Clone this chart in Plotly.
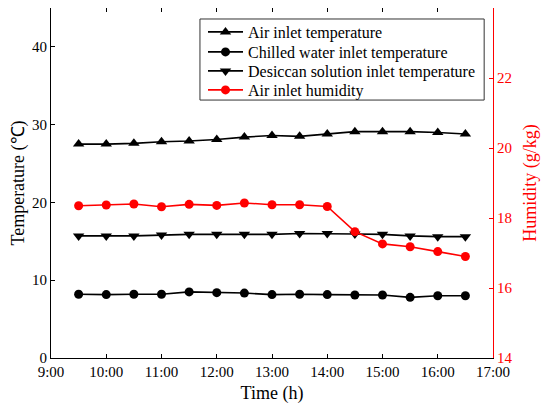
import plotly.graph_objects as go

# sample times in hours (9:30 ... 16:30)
hours = [9.5, 10.0, 10.5, 11.0, 11.5, 12.0, 12.5, 13.0, 13.5, 14.0, 14.5, 15.0, 15.5, 16.0, 16.5]

air_temp = [27.5, 27.5, 27.6, 27.8, 27.9, 28.1, 28.4, 28.6, 28.5, 28.8, 29.1, 29.1, 29.1, 29.0, 28.8]
water_temp = [8.2, 8.15, 8.2, 8.2, 8.5, 8.4, 8.35, 8.15, 8.2, 8.15, 8.1, 8.1, 7.8, 8.0, 8.0]
solution_temp = [15.7, 15.7, 15.7, 15.8, 15.9, 15.9, 15.9, 15.9, 16.0, 16.0, 15.95, 15.9, 15.7, 15.6, 15.6]
air_humidity = [18.35, 18.37, 18.40, 18.32, 18.39, 18.36, 18.43, 18.38, 18.38, 18.33,
                17.61, 17.26, 17.18, 17.04, 16.90]

x_tickvals = [9, 10, 11, 12, 13, 14, 15, 16, 17]
x_ticktext = ["9:00", "10:00", "11:00", "12:00", "13:00", "14:00", "15:00", "16:00", "17:00"]

FONT = "Liberation Serif"
RED = "#ff0000"

fig = go.Figure()
fig.add_trace(go.Scatter(
    x=hours, y=air_temp, name="Air inlet temperature", mode="lines+markers", legend="legend",
    line=dict(color="black", width=1.6), marker=dict(symbol="triangle-up", size=10, color="black")))
fig.add_trace(go.Scatter(
    x=hours, y=water_temp, name="Chilled water inlet temperature", mode="lines+markers", legend="legend2",
    line=dict(color="black", width=1.6), marker=dict(symbol="circle", size=9, color="black")))
fig.add_trace(go.Scatter(
    x=hours, y=solution_temp, name="Desiccan solution inlet temperature", mode="lines+markers",
    legend="legend3",
    line=dict(color="black", width=1.6), marker=dict(symbol="triangle-down", size=10, color="black")))
fig.add_trace(go.Scatter(
    x=hours, y=air_humidity, name="Air inlet humidity", mode="lines+markers", yaxis="y2", legend="legend4",
    line=dict(color=RED, width=1.6), marker=dict(symbol="circle", size=9, color=RED)))

# one legend per row so the rows sit as tight as in the original; a box is drawn around them
def row_legend(y):
    return dict(x=0.3439, xanchor="left", y=y, yanchor="middle", itemwidth=35,
                bgcolor="rgba(0,0,0,0)", borderwidth=0, font=dict(family=FONT, size=16))

fig.add_shape(type="rect", xref="paper", yref="paper", x0=0.337, x1=0.980, y0=0.737, y1=0.9686,
              line=dict(color="#333333", width=1), fillcolor="white", layer="below")

# page body has an 8px margin, so the figure is sized/margined to compensate
fig.update_layout(
    width=542, height=401,
    margin=dict(l=43, r=57, t=0, b=51, autoexpand=False),
    paper_bgcolor="white", plot_bgcolor="white",
    font=dict(family=FONT, size=15, color="black"),
    showlegend=True,
    legend=row_legend(0.9314),
    legend2=row_legend(0.8743),
    legend3=row_legend(0.8200),
    legend4=row_legend(0.7657),
    xaxis=dict(range=[9, 17], tickvals=x_tickvals, ticktext=x_ticktext,
               showgrid=False, zeroline=False, showline=True, linecolor="black", linewidth=1,
               mirror="ticks", ticks="inside", ticklen=4, tickcolor="black",
               title=dict(text="Time (h)", font=dict(size=18), standoff=7)),
    yaxis=dict(range=[0, 45], tickvals=[0, 10, 20, 30, 40],
               showgrid=False, zeroline=False, showline=True, linecolor="black", linewidth=1,
               ticks="inside", ticklen=4, tickcolor="black",
               title=dict(text="Temperature (℃)", font=dict(size=18), standoff=6)),
    yaxis2=dict(range=[14, 24], tickvals=[14, 16, 18, 20, 22], overlaying="y", side="right",
                showgrid=False, zeroline=False, showline=True, linecolor=RED, linewidth=1,
                ticks="inside", ticklen=4, tickcolor=RED, tickfont=dict(color=RED),
                title=dict(text="Humidity (g/kg)", font=dict(size=18, color=RED), standoff=11)),
)

fig.write_html("out.html")
